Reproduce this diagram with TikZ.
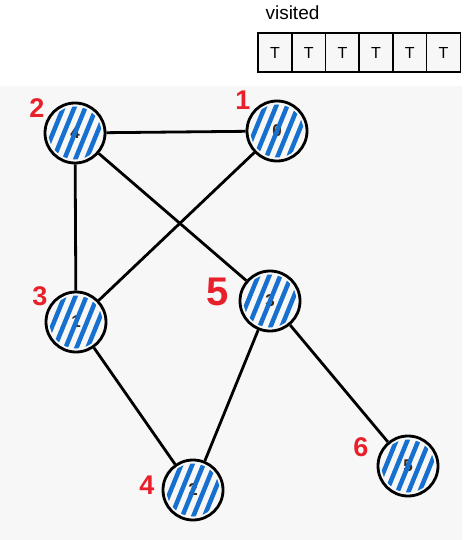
\documentclass[tikz,border=0pt]{standalone}
\usepackage{fontspec}
\setmainfont{Liberation Sans}
\usetikzlibrary{calc}
\definecolor{bg}{HTML}{F7F7F7}
\definecolor{hatchblue}{HTML}{1570D0}
\definecolor{numred}{HTML}{E8202A}
\tikzset{
  vert/.style={circle, draw=black, line width=2.8pt, minimum size=60pt, inner sep=0pt, font=\fontsize{17}{17}\selectfont\bfseries, text=black!70!brown},
  edge/.style={draw=black, line width=2.8pt},
  hatch/.style={draw=hatchblue, line width=4.5pt, line cap=round},
  order/.style={text=numred, font=\fontsize{27}{27}\selectfont\bfseries},
  cell/.style={draw=black, line width=1.6pt, fill=bg, minimum width=33.7pt, minimum height=39pt, inner sep=0pt, font=\fontsize{16}{16}\selectfont},
}
\newcommand\hatchit[1]{%
  \begin{scope}
    \clip (#1) circle (26.5);
    \foreach \d in {-33,-22,...,33} {
      \draw[hatch] ($(#1)+(\d,0)+(-11,27)$) -- ($(#1)+(\d,0)+(11,-27)$);
    }
  \end{scope}}
\begin{document}
\begin{tikzpicture}[x=1pt,y=-1pt]
\useasboundingbox (0,0) rectangle (465,540);
\fill[white] (0,0) rectangle (465,86);
\fill[bg] (0,86) rectangle (462,540);
% visited array
\node[anchor=west, font=\fontsize{19}{19}\selectfont] (vlabel) at (262,13) {visited};
\foreach \i in {0,...,5} {
  \node[cell] (c\i) at ({275+\i*33.7},52.5) {T};
}
% nodes
\node[vert] (n4) at (75,133) {4};
\node[vert] (n0) at (277,131) {0};
\node[vert] (n1) at (76,322) {1};
\node[vert] (n3) at (270,301) {3};
\node[vert] (n2) at (193,490) {2};
\node[vert] (n5) at (408,466) {5};
% edges
\draw[edge] (n4) -- (n0);
\draw[edge] (n4) -- (n1);
\draw[edge] (n4) -- (n3);
\draw[edge] (n0) -- (n1);
\draw[edge] (n1) -- (n2);
\draw[edge] (n3) -- (n2);
\draw[edge] (n3) -- (n5);
% hatching
\foreach \n in {n4,n0,n1,n3,n2,n5} { \hatchit{\n} }
% visit order
\node[order] (o4) at (37,108) {2};
\node[order] (o0) at (243,100) {1};
\node[order] (o1) at (40,296) {3};
\node[order, font=\fontsize{40}{40}\selectfont\bfseries] (o3) at (218,292) {5};
\node[order] (o2) at (147,485) {4};
\node[order] (o5) at (361,447) {6};
\end{tikzpicture}
\end{document}
